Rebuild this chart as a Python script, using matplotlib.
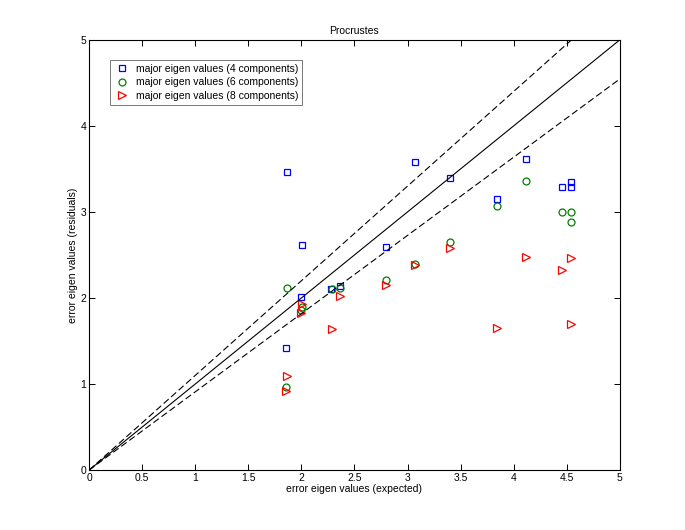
import numpy as np
import matplotlib
matplotlib.use("Agg")
import matplotlib.pyplot as plt

plt.rcParams['font.family'] = ['Liberation Sans', 'DejaVu Sans']

# expected vs residual error eigen values
x4 = [1.862, 3.07, 3.40, 4.115, 3.84, 4.45, 4.54, 4.535, 2.007, 2.80, 1.993, 2.283, 2.36, 1.852]
y4 = [3.465, 3.585, 3.39, 3.61, 3.15, 3.29, 3.35, 3.29, 2.618, 2.595, 2.015, 2.10, 2.142, 1.415]

x6 = [1.865, 4.115, 3.84, 4.45, 4.54, 4.54, 3.40, 2.80, 3.07, 2.29, 2.36, 1.993, 2.007, 1.852]
y6 = [2.12, 3.357, 3.074, 2.997, 3.00, 2.88, 2.645, 2.208, 2.397, 2.104, 2.11, 1.86, 1.90, 0.967]

x8 = [1.862, 1.852, 2.007, 1.993, 2.29, 2.36, 2.80, 3.07, 3.40, 4.115, 3.84, 4.45, 4.54, 4.54]
y8 = [1.09, 0.92, 1.926, 1.83, 1.643, 2.02, 2.154, 2.386, 2.583, 2.475, 1.651, 2.328, 2.463, 1.698]

ref = [0, 5]
tol = 1.1

fig = plt.figure(figsize=(6.85, 5.3), dpi=100)
ax = fig.add_axes([0.13, 0.113, 0.775, 0.812])

ax.plot(x4, y4, 's', mfc='none', mec='#0000ff', ms=5, mew=0.9, label='major eigen values (4 components)')
ax.plot(x6, y6, 'o', mfc='none', mec='#008000', ms=5, mew=0.9, label='major eigen values (6 components)')
ax.plot(x8, y8, '>', mfc='none', mec='#ff0000', ms=5.5, mew=0.9, label='major eigen values (8 components)')

ax.plot(ref, ref, 'k-', lw=0.8)
ax.plot(ref, [r * tol for r in ref], 'k--', lw=0.8, dashes=(6, 3))
ax.plot(ref, [r / tol for r in ref], 'k--', lw=0.8, dashes=(6, 3))

ax.set_xlim(0, 5)
ax.set_ylim(0, 5)
ax.set_xticks(np.arange(0, 5.01, 0.5))
ax.set_xticklabels(['0', '0.5', '1', '1.5', '2', '2.5', '3', '3.5', '4', '4.5', '5'])
ax.set_yticks(range(6))
ax.tick_params(direction='in', top=True, right=True, labelsize=7.5, length=4, width=0.7, pad=2)
for s in ax.spines.values():
    s.set_linewidth(0.8)

ax.set_title('Procrustes', fontsize=7.5, pad=4)
ax.set_xlabel('error eigen values (expected)', fontsize=7.5, labelpad=1)
ax.set_ylabel('error eigen values (residuals)', fontsize=7.5, labelpad=2)

leg = ax.legend(loc='upper left', bbox_to_anchor=(0.04, 0.953), borderaxespad=0, fontsize=7.5,
                frameon=True, fancybox=False, edgecolor='#555555', handlelength=1.5,
                handletextpad=0.6, borderpad=0.35, labelspacing=0.35)
leg.get_frame().set_linewidth(0.7)

fig.savefig('out.png', dpi=100)
